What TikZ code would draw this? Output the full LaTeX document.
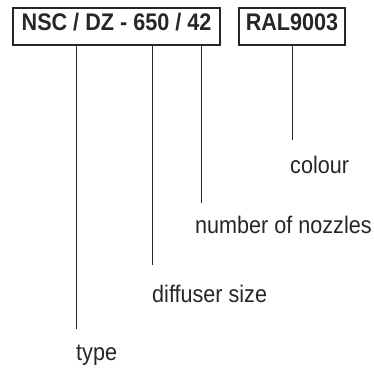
\documentclass[tikz,border=0pt]{standalone}
\usepackage{fontspec}
\setmainfont{Liberation Sans}[FakeStretch=0.9]
\usetikzlibrary{positioning}
\tikzset{
  codebox/.style={
    draw=black!85, line width=1.6pt,
    inner sep=0pt, text height=0.716em, text depth=0pt,
    font=\fontsize{24}{28}\selectfont\bfseries, text=black!85
  },
  legend/.style={
    anchor=base west, inner sep=0pt,
    font=\fontsize{24}{28}\selectfont, text=black!85
  },
  leader/.style={draw=black!85, line width=0.8pt}
}

\begin{document}
\begin{tikzpicture}[x=1pt, y=-1pt]
          \useasboundingbox (0,0) rectangle (374,372);
          \node[codebox, minimum width=207pt, minimum height=37pt] (code) at (116.5,26.5) {NSC / DZ - 650 / 42};
          \node[codebox, minimum width=106pt, minimum height=37pt] (ral) at (292,26.5) {RAL9003};

          \node[legend] (colour) at (290,173) {colour};
          \node[legend] (nozzles) at (195,233) {number of nozzles};
          \node[legend] (size) at (152,302) {diffuser size};
          \node[legend] (type) at (76,360) {type};

          \coordinate (colourend) at (292,140);
          \coordinate (nozzlesend) at (201,203);
          \coordinate (sizeend) at (152,265);
          \coordinate (typeend) at (76,329);

          \path[leader]
          (ral.south -| colourend) -- (colourend)
          (code.south -| nozzlesend) -- (nozzlesend)
          (code.south -| sizeend) -- (sizeend)
          (code.south -| typeend) -- (typeend);
        \end{tikzpicture}
\end{document}
